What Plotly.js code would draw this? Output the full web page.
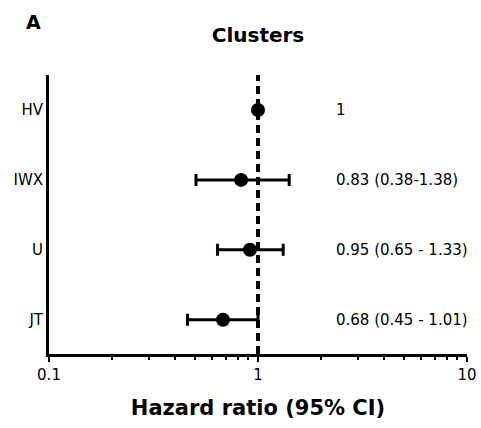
<!DOCTYPE html>
<html>
<head>
<meta charset="utf-8">
<script src="https://cdn.plot.ly/plotly-3.0.1.min.js"></script>
<style>html,body{margin:0;padding:0;background:#fff;}#chart{width:481px;height:428px;}</style>
</head>
<body>
<div id="chart"></div>
<script>
// Data
var clusters = ["HV", "IWX", "U", "JT"];
var hazardRatio = [1, 0.83, 0.915, 0.68];
var ciLow = [null, 0.505, 0.64, 0.46];
var ciHigh = [null, 1.41, 1.32, 1.0];
var ciLabels = ["1", "0.83 (0.38-1.38)", "0.95 (0.65 - 1.33)", "0.68 (0.45 - 1.01)"];
var clusterPos = [3, 2, 1, 0];
var xTickVals = [0.1, 1, 10];
var xTickText = ["0.1", "1", "10"];
var xMinorVals = [0.2,0.3,0.4,0.5,0.6,0.7,0.8,0.9,2,3,4,5,6,7,8,9];

var plus = hazardRatio.map(function(v,i){ return ciHigh[i]==null ? 0 : ciHigh[i]-v; });
var minus = hazardRatio.map(function(v,i){ return ciLow[i]==null ? 0 : v-ciLow[i]; });

var font = "DejaVu Sans, Verdana, sans-serif";

var traces = [{
  type: "scatter",
  mode: "markers",
  x: hazardRatio,
  y: clusterPos,
  marker: {color: "#000", size: 14, symbol: "circle"},
  error_x: {
    type: "data", symmetric: false,
    array: plus, arrayminus: minus,
    color: "#000", thickness: 3, width: 6
  },
  showlegend: false,
  hoverinfo: "skip"
}];

var annotations = ciLabels.map(function(t,i){
  return {x: 0.366, xref: "x", y: clusterPos[i], yref: "y", text: t, showarrow: false,
          xanchor: "left", yanchor: "middle", font: {family: font, size: 15, color: "#000"}};
});
annotations.push({x: -0.037, xref: "paper", y: 1.19, yref: "paper", text: "<b>A</b>", showarrow:false,
  xanchor: "center", yanchor: "middle", font:{family: font, size: 19, color:"#000"}});

var layout = {
  width: 481, height: 428,
  margin: {l: 49, r: 14, t: 75, b: 74},
  paper_bgcolor: "#fff", plot_bgcolor: "#fff",
  title: {text: "<b>Clusters</b>", x: 0.5, xref: "paper", xanchor: "center", y: 0.918, yanchor: "middle",
          font: {family: font, size: 20, color: "#000"}},
  xaxis: {
    type: "log", range: [-1, 1],
    tickmode: "array", tickvals: xTickVals, ticktext: xTickText,
    ticks: "outside", ticklen: 5, tickwidth: 2, tickcolor: "#000",
    minor: {tickmode: "array", tickvals: xMinorVals, ticks: "outside", ticklen: 3, tickwidth: 2, tickcolor: "#000"},
    showline: true, linecolor: "#000", linewidth: 3,
    showgrid: false, zeroline: false,
    tickfont: {family: font, size: 15, color: "#000"},
    title: {text: "<b>Hazard ratio (95% CI)</b>", font: {family: font, size: 21, color: "#000"}, standoff: 18}
  },
  yaxis: {
    range: [-0.49, 3.5],
    tickmode: "array", tickvals: clusterPos, ticktext: clusters,
    ticks: "", showline: true, linecolor: "#000", linewidth: 3,
    showgrid: false, zeroline: false,
    tickfont: {family: font, size: 15, color: "#000"}
  },
  shapes: [{
    type: "line", xref: "x", yref: "paper", x0: 1, x1: 1, y0: 0, y1: 1,
    line: {color: "#000", width: 4, dash: "8px,5px"}, layer: "below"
  }],
  annotations: annotations
};

Plotly.newPlot("chart", traces, layout, {displayModeBar: false, staticPlot: true});
</script>
</body>
</html>
